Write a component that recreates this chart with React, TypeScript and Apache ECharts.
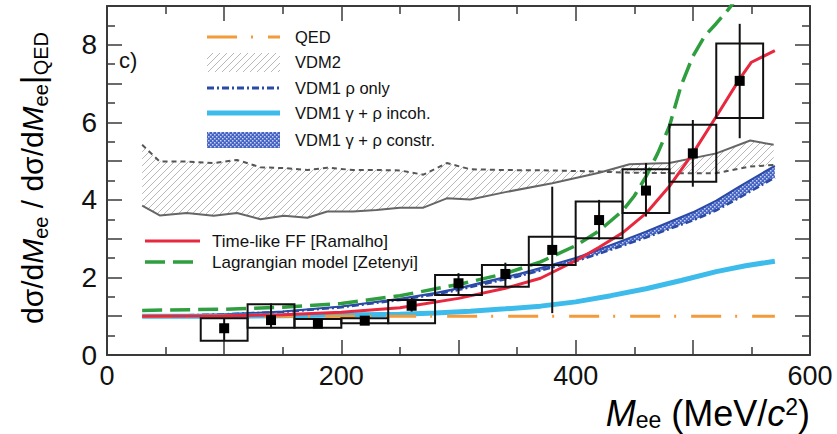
import React, { useEffect, useRef } from 'react';
import * as echarts from 'echarts';

// ---- measured data points (ratio to QED) ----
const binCenters = [100, 140, 180, 220, 260, 300, 340, 380, 420, 460, 500, 540];
const binHalfWidths = [20, 20, 20, 20, 20, 20, 20, 20, 20, 20, 20, 20];
const dataValues = [0.69, 0.9, 0.81, 0.885, 1.27, 1.85, 2.09, 2.71, 3.48, 4.24, 5.2, 7.07];
const statLow = [0.38, 0.69, 0.74, 0.8, 1.12, 1.52, 1.75, 1.08, 2.97, 3.57, 4.34, 5.59];
const statHigh = [0.95, 1.33, 0.88, 0.99, 1.47, 2.11, 2.38, 4.34, 4.0, 4.95, 6.06, 8.54];
const sysLow = [0.37, 0.7, 0.7, 0.82, 0.82, 1.55, 1.76, 2.32, 3.01, 3.66, 4.47, 6.11];
const sysHigh = [0.95, 1.31, 0.93, 0.95, 1.42, 2.06, 2.32, 3.05, 3.96, 4.79, 5.94, 8.03];

// ---- QED reference ----
const qedX = [30, 570];
const qedY = [1, 1];

// ---- VDM2 band ----
const vdm2X = [30, 45, 68, 91, 111, 131, 151, 171, 188, 210, 230, 250, 270, 290, 310, 340, 380, 420, 446, 480, 520, 549, 569];
const vdm2Upper = [5.42, 4.99, 4.99, 4.95, 5.03, 4.84, 4.82, 4.77, 4.83, 4.77, 4.77, 4.76, 4.65, 4.95, 4.79, 4.77, 4.76, 4.73, 4.7, 4.69, 4.69, 4.86, 4.9];
const vdm2Lower = [3.85, 3.6, 3.66, 3.59, 3.66, 3.5, 3.59, 3.54, 3.7, 3.7, 3.74, 3.8, 3.8, 4.04, 4.01, 4.2, 4.43, 4.7, 4.92, 4.95, 5.2, 5.53, 5.42];

// ---- VDM1 curves ----
const vdm1X = [30, 60, 100, 150, 200, 250, 280, 300, 320, 350, 380, 400, 420, 440, 460, 480, 500, 520, 540, 570];
const vdm1ConstrUpper = [1.0, 1.02, 1.05, 1.12, 1.25, 1.45, 1.6, 1.72, 1.87, 2.08, 2.33, 2.5, 2.72, 2.95, 3.18, 3.43, 3.68, 3.98, 4.35, 4.88];
const vdm1RhoOnly = [1.0, 1.02, 1.05, 1.11, 1.23, 1.42, 1.56, 1.68, 1.82, 2.02, 2.26, 2.42, 2.61, 2.82, 3.03, 3.25, 3.47, 3.73, 4.06, 4.58];
const incohX = [30, 100, 150, 200, 250, 280, 310, 340, 370, 400, 430, 460, 490, 520, 545, 570];
const incohY = [1.0, 1.0, 1.01, 1.03, 1.05, 1.08, 1.13, 1.19, 1.26, 1.37, 1.53, 1.71, 1.92, 2.15, 2.3, 2.42];

// ---- Time-like FF [Ramalho] ----
const ramalhoX = [30, 100, 150, 200, 250, 300, 340, 370, 400, 420, 440, 460, 480, 500, 520, 540, 550, 570];
const ramalhoY = [1.0, 1.01, 1.04, 1.1, 1.22, 1.46, 1.72, 1.98, 2.43, 2.78, 3.15, 3.65, 4.35, 5.2, 6.15, 7.12, 7.55, 7.85];

// ---- Lagrangian model [Zetenyi] ----
const zetenyiX = [30, 100, 150, 200, 250, 300, 340, 370, 400, 420, 440, 450, 460, 470, 480, 490, 500, 510, 520, 530, 540];
const zetenyiY = [1.15, 1.18, 1.23, 1.33, 1.53, 1.82, 2.1, 2.4, 2.82, 3.2, 3.72, 4.1, 4.6, 5.2, 5.9, 6.95, 7.7, 8.22, 8.55, 8.9, 9.3];

// ---- axis ticks ----
const xLabelValues = [0, 200, 400, 600];
const yLabelValues = [0, 2, 4, 6, 8];

const FONT = '"Liberation Sans", Arial, Helvetica, sans-serif';
const C_QED = '#f39a3a';
const C_RED = '#e8283e';
const C_GREEN = '#2e9e3e';
const C_LBLUE = '#3dbbeb';
const C_DBLUE = '#2b4aa6';

function makeHatch(): HTMLCanvasElement {
  const c = document.createElement('canvas');
  c.width = 7;
  c.height = 7;
  const g = c.getContext('2d')!;
  g.clearRect(0, 0, 7, 7);
  g.strokeStyle = '#b0b0b0';
  g.lineWidth = 0.9;
  g.beginPath();
  g.moveTo(-1, 8); g.lineTo(8, -1);
  g.moveTo(-1, 1); g.lineTo(1, -1);
  g.moveTo(6, 8); g.lineTo(8, 6);
  g.stroke();
  return c;
}

function makeDots(): HTMLCanvasElement {
  const c = document.createElement('canvas');
  c.width = 4;
  c.height = 4;
  const g = c.getContext('2d')!;
  g.fillStyle = '#4563c2';
  g.fillRect(0, 0, 4, 4);
  g.fillStyle = '#c9d3f2';
  g.fillRect(0, 0, 1.5, 1.5);
  g.fillRect(2, 2, 1.5, 1.5);
  return c;
}

function pairs(xs: number[], ys: number[]) {
  return xs.map((x, i) => [x, ys[i]]);
}

export default function App() {
  const ref = useRef<HTMLDivElement>(null);
  useEffect(() => {
    const chart = echarts.init(ref.current!, null, { renderer: 'svg' });
    const hatch = { image: makeHatch(), repeat: 'repeat' };
    const dots = { image: makeDots(), repeat: 'repeat' };

    const band = (xs: number[], lower: number[], upper: number[], fill: any, z: number) => ({
      type: 'custom',
      coordinateSystem: 'cartesian2d',
      z,
      silent: true,
      data: [[xs[0], lower[0]]],
      renderItem: (_p: any, api: any) => {
        const pts: number[][] = [];
        for (let i = 0; i < xs.length; i++) pts.push(api.coord([xs[i], upper[i]]));
        for (let i = xs.length - 1; i >= 0; i--) pts.push(api.coord([xs[i], lower[i]]));
        return { type: 'polygon', shape: { points: pts }, style: { fill, stroke: 'none' } };
      },
    });

    const lineS = (xs: number[], ys: number[], color: string, width: number, type: any, z: number) => ({
      type: 'line',
      data: pairs(xs, ys),
      symbol: 'none',
      smooth: false,
      z,
      silent: true,
      lineStyle: { color, width, type, cap: 'butt' },
    });

    const axisCommon = {
      type: 'value',
      axisLine: { show: true, onZero: false, lineStyle: { color: '#3a3a3a', width: 2 } },
      splitLine: { show: false },
      axisTick: { show: true, inside: true, length: 15, lineStyle: { color: '#3a3a3a', width: 1.5 } },
      minorTick: { show: true, splitNumber: 2, length: 8, lineStyle: { color: '#3a3a3a', width: 1.5 } },
    };

    const option: any = {
      animation: false,
      backgroundColor: '#ffffff',
      grid: { left: 107, right: 27, top: 6, bottom: 79, containLabel: false },
      xAxis: [
        {
          ...axisCommon,
          position: 'bottom',
          min: 0,
          max: 600,
          interval: 100,
          axisLabel: {
            show: true,
            margin: 7,
            fontSize: 27,
            lineHeight: 27,
            fontFamily: FONT,
            color: '#111',
            showMaxLabel: true,
            formatter: (v: number) => (xLabelValues.indexOf(v) >= 0 ? String(v) : ''),
          },
        },
        { ...axisCommon, position: 'top', min: 0, max: 600, interval: 100, axisLabel: { show: false } },
      ],
      yAxis: [
        {
          ...axisCommon,
          position: 'left',
          min: 0,
          max: 9,
          interval: 1,
          axisLabel: {
            show: true,
            margin: 10,
            fontSize: 28,
            fontFamily: FONT,
            color: '#111',
            formatter: (v: number) => (yLabelValues.indexOf(v) >= 0 ? String(v) : ''),
          },
        },
        { ...axisCommon, position: 'right', min: 0, max: 9, interval: 1, axisLabel: { show: false } },
      ],
      series: [
        band(vdm2X, vdm2Lower, vdm2Upper, hatch, 1),
        lineS(vdm2X, vdm2Upper, '#555', 2, [5, 4], 2),
        lineS(vdm2X, vdm2Lower, '#666', 2, 'solid', 2),
        band(vdm1X, vdm1RhoOnly, vdm1ConstrUpper, dots, 3),
        lineS(vdm1X, vdm1ConstrUpper, C_DBLUE, 2, 'solid', 4),
        lineS(vdm1X, vdm1RhoOnly, C_DBLUE, 2.5, [7, 3, 2, 3], 4),
        lineS(incohX, incohY, C_LBLUE, 5, 'solid', 5),
        lineS(qedX, qedY, C_QED, 3, [30, 14, 2, 15], 6),
        lineS(ramalhoX, ramalhoY, C_RED, 3, 'solid', 7),
        lineS(zetenyiX, zetenyiY, C_GREEN, 3.5, [20, 8], 8),
        {
          type: 'custom',
          coordinateSystem: 'cartesian2d',
          z: 9,
          silent: true,
          data: binCenters.map((x, i) => [x, dataValues[i], statLow[i], statHigh[i], sysLow[i], sysHigh[i], binHalfWidths[i]]),
          renderItem: (_p: any, api: any) => {
            const x = api.value(0);
            const hw = api.value(6);
            const tl = api.coord([x - hw, api.value(5)]);
            const br = api.coord([x + hw, api.value(4)]);
            const c = api.coord([x, api.value(1)]);
            const e0 = api.coord([x, api.value(3)]);
            const e1 = api.coord([x, api.value(2)]);
            return {
              type: 'group',
              children: [
                { type: 'rect', shape: { x: tl[0], y: tl[1], width: br[0] - tl[0], height: br[1] - tl[1] }, style: { fill: 'none', stroke: '#111', lineWidth: 2 } },
                { type: 'line', shape: { x1: e0[0], y1: e0[1], x2: e1[0], y2: e1[1] }, style: { stroke: '#111', lineWidth: 2 } },
                { type: 'rect', shape: { x: c[0] - 5, y: c[1] - 5, width: 10, height: 10 }, style: { fill: '#000' } },
              ],
            };
          },
        },
      ],
      graphic: [
        // panel label
        { type: 'text', x: 119, y: 60, style: { text: 'c)', font: `22px ${FONT}`, fill: '#111', verticalAlign: 'middle' } },
        // upper legend
        { type: 'line', shape: { x1: 207, y1: 37, x2: 280, y2: 37 }, style: { stroke: C_QED, lineWidth: 3, lineDash: [30, 14, 2, 15] } },
        { type: 'text', x: 295, y: 37, style: { text: 'QED', font: `16.5px ${FONT}`, fill: '#111', verticalAlign: 'middle' } },
        { type: 'rect', shape: { x: 207, y: 53, width: 73, height: 19 }, style: { fill: hatch } },
        { type: 'text', x: 295, y: 62, style: { text: 'VDM2', font: `16.5px ${FONT}`, fill: '#111', verticalAlign: 'middle' } },
        { type: 'line', shape: { x1: 207, y1: 88, x2: 280, y2: 88 }, style: { stroke: C_DBLUE, lineWidth: 3, lineDash: [7, 3, 2, 3] } },
        { type: 'text', x: 295, y: 88, style: { text: 'VDM1 ρ only', font: `16.5px ${FONT}`, fill: '#111', verticalAlign: 'middle' } },
        { type: 'line', shape: { x1: 207, y1: 113, x2: 280, y2: 113 }, style: { stroke: C_LBLUE, lineWidth: 5 } },
        { type: 'text', x: 295, y: 113, style: { text: 'VDM1 γ + ρ incoh.', font: `16.5px ${FONT}`, fill: '#111', verticalAlign: 'middle' } },
        { type: 'rect', shape: { x: 207, y: 132, width: 73, height: 16 }, style: { fill: dots } },
        { type: 'text', x: 295, y: 140, style: { text: 'VDM1 γ + ρ constr.', font: `16.5px ${FONT}`, fill: '#111', verticalAlign: 'middle' } },
        // lower legend
        { type: 'line', shape: { x1: 145, y1: 241, x2: 200, y2: 241 }, style: { stroke: C_RED, lineWidth: 3 } },
        { type: 'text', x: 212, y: 241, style: { text: 'Time-like FF [Ramalho]', font: `17px ${FONT}`, fill: '#111', verticalAlign: 'middle' } },
        { type: 'line', shape: { x1: 145, y1: 262, x2: 200, y2: 262 }, style: { stroke: C_GREEN, lineWidth: 3.5, lineDash: [20, 8] } },
        { type: 'text', x: 212, y: 262, style: { text: 'Lagrangian model [Zetenyi]', font: `17px ${FONT}`, fill: '#111', verticalAlign: 'middle' } },
        // x axis title
        {
          type: 'text',
          x: 810,
          y: 413,
          style: {
            text: '{i|M}{s|ee}{n| (MeV/}{i|c}{p|2}{n|)}',
            align: 'right',
            verticalAlign: 'middle',
            rich: {
              n: { fontSize: 36, fontFamily: FONT, color: '#111', lineHeight: 36, verticalAlign: 'middle' },
              i: { fontSize: 36, fontFamily: FONT, fontStyle: 'italic', color: '#111', lineHeight: 36, verticalAlign: 'middle' },
              s: { fontSize: 23, fontFamily: FONT, color: '#111', lineHeight: 23, verticalAlign: 'bottom' },
              p: { fontSize: 23, fontFamily: FONT, color: '#111', lineHeight: 23, verticalAlign: 'top' },
            },
          },
        },
        // y axis title
        {
          type: 'text',
          x: 32,
          y: 178,
          rotation: Math.PI / 2,
          style: {
            text: '{n|dσ/d}{i|M}{s|ee}{n| / dσ/d}{i|M}{s|ee}{b||}{s|QED}',
            align: 'center',
            verticalAlign: 'middle',
            rich: {
              n: { fontSize: 30, fontFamily: FONT, color: '#111', lineHeight: 38, verticalAlign: 'middle' },
              i: { fontSize: 30, fontFamily: FONT, fontStyle: 'italic', color: '#111', lineHeight: 38, verticalAlign: 'middle' },
              s: { fontSize: 20, fontFamily: FONT, color: '#111', lineHeight: 20, verticalAlign: 'bottom' },
              b: { fontSize: 34, fontFamily: FONT, color: '#111', lineHeight: 38, verticalAlign: 'middle' },
            },
          },
        },
      ],
    };
    chart.setOption(option);
    return () => chart.dispose();
  }, []);
  return (
    <div
      ref={ref}
      style={{ position: 'absolute', left: 0, top: 0, width: 837, height: 434, background: '#fff' }}
    />
  );
}
